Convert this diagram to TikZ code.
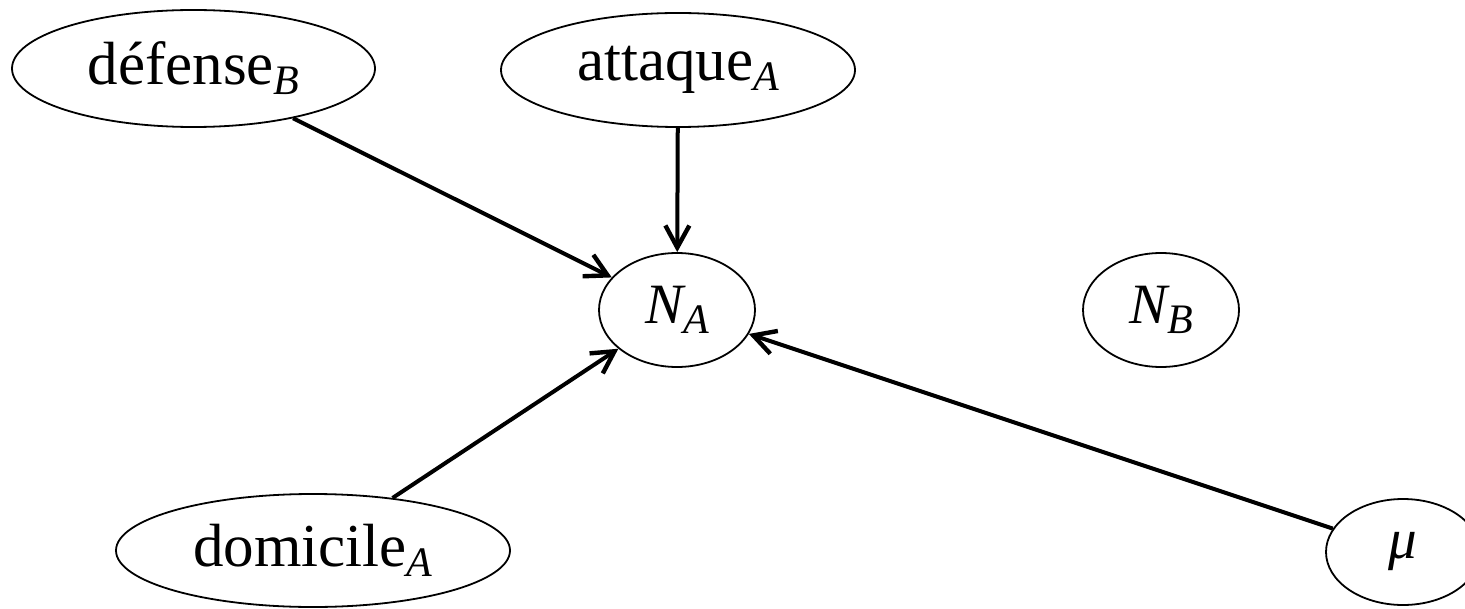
\documentclass[tikz,border=0pt]{standalone}
\usepackage{fontspec}
\setmainfont{Liberation Serif}
\usetikzlibrary{shapes.geometric,arrows.meta}
\newcommand\mysub[1]{\raisebox{-5pt}{\fontsize{21}{21}\selectfont\itshape #1}}
\newcommand\mytxt{\fontsize{30.5}{34}\selectfont}
\newcommand\myvar[1]{{\fontsize{28.5}{32}\selectfont\itshape #1}}
\begin{document}
\begin{tikzpicture}[x=0.5pt,y=-0.5pt,
  var/.style={ellipse,draw,line width=0.9pt,inner sep=0pt,font=\mytxt},
  edge/.style={line width=2pt,-{Straight Barb[length=11pt,width=12pt,line width=2.2pt]}}]
\useasboundingbox (0,0) rectangle (1465,609);
\node[var,minimum width=181.5pt,minimum height=58.5pt] (def) at (193.5,68.5) {défense\mysub{B}};
\node[var,minimum width=177pt,minimum height=57pt] (att) at (678,70) {attaque\mysub{A}};
\node[var,minimum width=78pt,minimum height=57pt] (na) at (677,310) {\myvar{N}\mysub{A}};
\node[var,minimum width=78pt,minimum height=57pt] (nb) at (1161,310) {\myvar{N}\mysub{B}};
\node[var,minimum width=197pt,minimum height=56.5pt] (dom) at (313,550.5) {domicile\mysub{A}};
\node[var,minimum width=77pt,minimum height=53pt] (mu) at (1403,552) {\myvar{μ}};
\draw[edge] (def) -- (na);
\draw[edge] (att) -- (na);
\draw[edge] (dom) -- (na);
\draw[edge] (mu) -- (na);
\end{tikzpicture}
\end{document}
